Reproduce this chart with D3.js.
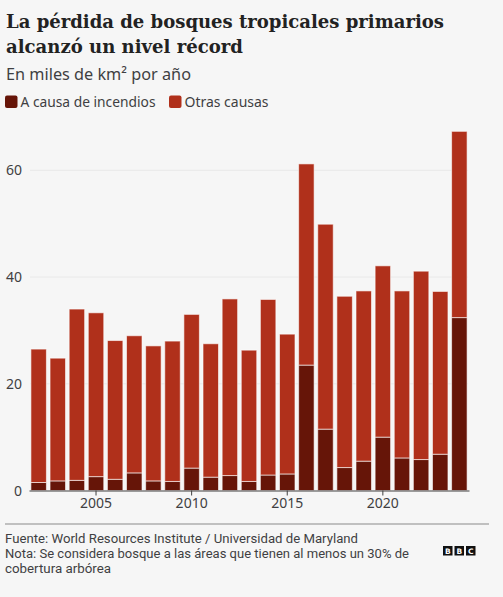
<!DOCTYPE html>
<html>
<head>
<meta charset="utf-8">
<script src="https://cdn.jsdelivr.net/npm/d3@7"></script>
<style>
  html, body { margin: 0; padding: 0; background: #f6f6f6; }
  svg { display: block; }
</style>
</head>
<body>
<svg id="chart" width="503" height="597"></svg>
<script>
// data (thousands of km² per year)
var years = [2002, 2003, 2004, 2005, 2006, 2007, 2008, 2009, 2010, 2011, 2012,
             2013, 2014, 2015, 2016, 2017, 2018, 2019, 2020, 2021, 2022, 2023, 2024];
var fire  = [1.5, 1.8, 1.9, 2.6, 2.1, 3.3, 1.8, 1.7, 4.2, 2.5, 2.8,
             1.7, 2.9, 3.1, 23.5, 11.5, 4.3, 5.5, 10.0, 6.1, 5.8, 6.8, 32.4];
var other = [25.0, 23.0, 32.1, 30.7, 26.0, 25.7, 25.3, 26.3, 28.8, 25.0, 33.1,
             24.6, 32.9, 26.2, 37.7, 38.4, 32.1, 31.9, 32.1, 31.3, 35.3, 30.5, 34.9];
var seriesNames = ["A causa de incendios", "Otras causas"];
var yTicks = [0, 20, 40, 60];
var xTicks = [2005, 2010, 2015, 2020];

var colors = ["#661508", "#b0301b"];
var sans = "'Noto Sans', 'Open Sans', sans-serif";
var ink = "#3f3f42";

var svg = d3.select("#chart");

// helper: squeeze a text horizontally to a target width
function fit(sel, w) {
  var len = sel.node().getComputedTextLength();
  if (len > 0) sel.attr("textLength", w).attr("lengthAdjust", "spacingAndGlyphs");
  return sel;
}

// title + subtitle
var t1 = svg.append("text").attr("x", 6).attr("y", 28)
  .style("font-family", "'DejaVu Serif', serif").style("font-weight", "bold")
  .style("font-size", "19px").style("fill", "#222")
  .text("La pérdida de bosques tropicales primarios");
fit(t1, 438);
var t2 = svg.append("text").attr("x", 6).attr("y", 53)
  .style("font-family", "'DejaVu Serif', serif").style("font-weight", "bold")
  .style("font-size", "19px").style("fill", "#222")
  .text("alcanzó un nivel récord");
fit(t2, 237);

var sub = svg.append("text").attr("x", 6).attr("y", 80)
  .style("font-family", sans).style("font-size", "16px").style("fill", ink)
  .text("En miles de km² por año");
fit(sub, 185);

// legend
var legendX = [5, 169];
var legendW = [135, 84];
seriesNames.forEach(function(name, i) {
  svg.append("rect").attr("x", legendX[i]).attr("y", 95.5)
    .attr("width", 12.5).attr("height", 12.5).attr("rx", 2)
    .style("fill", colors[i]);
  var lt = svg.append("text").attr("x", legendX[i] + 15.5).attr("y", 106.5)
    .style("font-family", sans).style("font-size", "14px").style("fill", ink)
    .text(name);
  fit(lt, legendW[i]);
});

// scales
var x = d3.scaleBand()
  .domain(years)
  .range([29, 469])
  .paddingInner(0.19)
  .paddingOuter(0.1);

var y = d3.scaleLinear()
  .domain([0, 60])
  .range([490.5, 170.3]);

// gridlines
svg.append("g")
  .selectAll("line")
  .data(yTicks.filter(function(d) { return d > 0; }))
  .join("line")
  .attr("x1", 30).attr("x2", 468)
  .attr("y1", function(d) { return y(d); })
  .attr("y2", function(d) { return y(d); })
  .style("stroke", "#e9e9e9").style("stroke-width", 1);

// y labels
svg.append("g")
  .selectAll("text")
  .data(yTicks)
  .join("text")
  .attr("x", 22)
  .attr("y", function(d) { return y(d) + 5; })
  .attr("text-anchor", "end")
  .style("font-family", sans).style("font-size", "14px").style("fill", ink)
  .text(function(d) { return d; });

// stacked bars
var rows = years.map(function(yr, i) { return { year: yr, fire: fire[i], other: other[i] }; });
var stacked = d3.stack().keys(["fire", "other"])(rows);

svg.append("g")
  .selectAll("g")
  .data(stacked)
  .join("g")
  .style("fill", function(d, i) { return colors[i]; })
  .selectAll("rect")
  .data(function(d) { return d; })
  .join("rect")
  .attr("x", function(d) { return x(d.data.year); })
  .attr("width", x.bandwidth())
  .attr("y", function(d) { return y(d[1]); })
  .attr("height", function(d) { return y(d[0]) - y(d[1]); })
  .style("stroke", "rgba(255,255,255,0.6)")
  .style("stroke-width", 1);

// x axis
var xAxis = d3.axisBottom(x)
  .tickValues(xTicks)
  .tickSize(5)
  .tickSizeOuter(0)
  .tickPadding(3);

var gx = svg.append("g")
  .attr("transform", "translate(0,490.5)")
  .call(xAxis);
gx.select(".domain").style("stroke", "#404040").style("stroke-width", 1.2);
gx.selectAll(".tick line").style("stroke", "#404040");
gx.selectAll(".tick text")
  .style("font-family", sans).style("font-size", "14px").style("fill", ink);

// footer
svg.append("line")
  .attr("x1", 5).attr("x2", 489).attr("y1", 524).attr("y2", 524)
  .style("stroke", "#8a8a8a").style("stroke-width", 1);

var footer = [
  ["Fuente: World Resources Institute / Universidad de Maryland", 543, 353],
  ["Nota: Se considera bosque a las áreas que tienen al menos un 30% de", 558, 404],
  ["cobertura arbórea", 573, 106]
];
footer.forEach(function(f) {
  var ft = svg.append("text").attr("x", 5).attr("y", f[1])
    .style("font-family", "Roboto, 'Liberation Sans', sans-serif")
    .style("font-size", "12px").style("fill", ink)
    .text(f[0]);
  fit(ft, f[2]);
});

// BBC blocks
var logo = svg.append("g").attr("transform", "translate(443,546)");
["B", "B", "C"].forEach(function(ch, i) {
  logo.append("rect").attr("x", i * 11.5).attr("y", 0)
    .attr("width", 9.5).attr("height", 9.5).style("fill", "#111");
  logo.append("text").attr("x", i * 11.5 + 4.75).attr("y", 8)
    .attr("text-anchor", "middle")
    .style("font-family", "'DejaVu Sans', sans-serif").style("font-weight", "bold")
    .style("font-size", "7.5px").style("fill", "#fff")
    .text(ch);
});
</script>
</body>
</html>
